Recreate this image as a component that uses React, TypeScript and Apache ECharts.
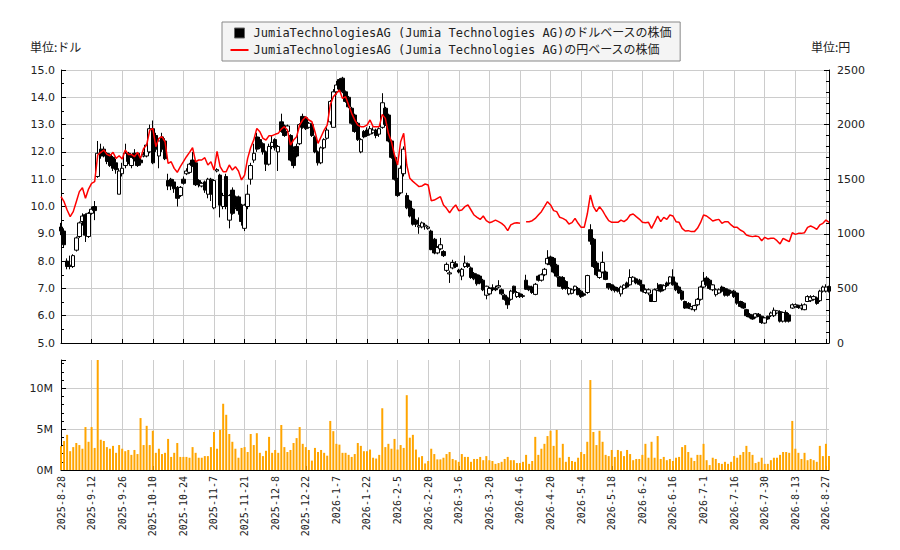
import React, { useEffect, useRef } from 'react';
import * as echarts from 'echarts';

const NAME_USD = 'JumiaTechnologiesAG (Jumia Technologies AG)のドルベースの株価';
const NAME_JPY = 'JumiaTechnologiesAG (Jumia Technologies AG)の円ベースの株価';

// US market holidays inside the period (trading calendar for the category axis)
const HOLIDAYS = ['2025-9-1', '2025-11-27', '2025-12-25', '2026-1-1', '2026-1-19', '2026-2-16', '2026-4-3', '2026-5-25', '2026-6-19', '2026-7-3'];
const FIRST_DAY = [2025, 8, 28];
const DAY_COUNT = 252;

const OPEN = [
  9.25, 9.1, 8.0, 7.85, 7.8, 8.4, 8.9, 9.45, 9.7, 8.9,
  9.75, 10.0, 11.1, 12.1, 12.1, 11.95, 11.9, 11.8, 11.6, 10.45,
  11.2, 11.5, 11.95, 11.5, 11.95, 11.95, 11.7, 11.85, 11.85, 12.0,
  12.85, 12.6, 11.85, 12.55, 12.4, 10.95, 11.0, 10.9, 10.7, 10.4,
  11.0, 11.2, 11.25, 11.7, 11.6, 10.95, 10.75, 10.9, 10.45, 11.0,
  9.95, 11.3, 11.15, 10.0, 11.1, 9.5, 10.6, 10.35, 10.35, 10.05,
  9.2, 10.0, 11.0, 11.7, 12.55, 12.45, 12.3, 12.0, 11.55, 12.2,
  12.45, 12.0, 13.1, 12.95, 12.75, 12.6, 12.1, 12.2, 12.3, 13.3,
  13.25, 12.9, 13.0, 12.55, 12.0, 11.6, 12.15, 12.5, 13.1, 12.9,
  14.2, 14.65, 14.7, 14.2, 14.0, 13.6, 13.35, 13.05, 12.0, 12.75,
  12.8, 12.65, 12.7, 12.8, 12.65, 12.9, 13.6, 13.35, 12.4, 11.8,
  11.0, 10.5, 11.2, 10.4, 10.2, 9.9, 9.5, 9.25, 9.25, 9.28,
  9.2, 9.1, 8.8, 8.3, 8.45, 8.35, 7.66, 7.53, 7.75, 7.9,
  7.67, 7.45, 7.8, 7.9, 7.75, 7.55, 7.5, 7.45, 7.3, 6.75,
  6.8, 7.02, 7.0, 7.05, 6.95, 6.75, 6.65, 6.6, 7.08, 6.7,
  6.8, 6.73, 7.3, 7.08, 7.05, 6.78, 7.45, 7.3, 7.5, 7.9,
  8.15, 8.1, 7.85, 7.42, 7.4, 7.25, 6.8, 6.82, 6.95, 7.0,
  6.9, 6.8, 6.85, 9.15, 8.8, 7.93, 7.4, 7.6, 7.6, 7.18,
  7.13, 7.05, 7.0, 6.8, 7.0, 7.2, 7.13, 7.27, 7.35, 7.3,
  7.13, 6.85, 6.83, 6.77, 6.52, 6.93, 7.13, 6.95, 7.2, 7.2,
  7.42, 7.2, 7.05, 6.9, 6.52, 6.45, 6.25, 6.22, 6.4, 6.6,
  7.05, 7.38, 7.3, 6.95, 6.77, 6.83, 7.05, 7.0, 6.95, 6.9,
  6.9, 6.83, 6.52, 6.46, 6.22, 6.05, 6.0, 5.95, 6.05, 5.98,
  5.73, 5.98, 6.0, 6.0, 6.1, 6.15, 5.8, 6.12, 6.03, 6.28,
  6.33, 6.38, 6.28, 6.22, 6.52, 6.55, 6.6, 6.65, 6.55, 6.9,
  6.9, 7.07,
];

const CLOSE = [
  9.1, 8.6, 7.8, 7.8, 8.2, 8.85, 9.4, 9.65, 8.95, 9.75,
  9.9, 9.85, 11.95, 11.85, 11.85, 11.65, 11.5, 11.4, 11.35, 11.3,
  11.4, 11.95, 11.65, 11.8, 11.75, 11.5, 11.6, 11.9, 12.25, 12.85,
  11.6, 12.1, 12.4, 12.1, 11.75, 10.75, 10.75, 10.65, 10.3, 10.7,
  10.85, 11.3, 11.55, 11.5, 10.8, 10.8, 10.85, 10.6, 11.0, 10.45,
  10.95, 11.35, 10.05, 10.4, 10.0, 10.4, 9.75, 9.95, 9.85, 9.45,
  10.05, 10.45, 11.5, 11.95, 12.1, 12.15, 12.0, 11.55, 12.2, 12.35,
  12.15, 12.2, 12.75, 12.6, 12.95, 11.7, 11.5, 11.85, 13.0, 12.9,
  12.85, 13.05, 12.6, 12.0, 11.6, 12.15, 12.45, 12.8, 13.85, 14.2,
  14.45, 14.3, 14.2, 13.85, 13.65, 13.05, 12.75, 12.45, 12.45, 12.55,
  12.6, 12.85, 12.8, 12.6, 12.85, 13.8, 13.0, 12.4, 11.8, 11.0,
  10.4, 11.4, 12.1, 9.95, 9.65, 9.35, 9.35, 9.3, 9.4, 9.32,
  9.25, 8.42, 8.3, 8.5, 8.6, 8.2, 7.88, 7.57, 7.95, 7.8,
  7.6, 7.7, 7.93, 7.8, 7.4, 7.35, 7.17, 7.2, 6.95, 7.08,
  7.0, 6.98, 6.95, 7.1, 6.8, 6.6, 6.4, 6.9, 6.86, 6.85,
  6.7, 6.71, 6.97, 6.95, 6.85, 7.15, 7.3, 7.5, 7.7, 8.1,
  7.87, 7.6, 7.45, 7.08, 7.0, 7.0, 7.0, 6.95, 7.08, 6.77,
  6.7, 6.75, 7.47, 8.73, 7.8, 7.5, 7.63, 7.95, 7.33, 7.02,
  6.95, 6.92, 6.9, 7.05, 7.12, 7.05, 7.4, 7.41, 7.2, 7.15,
  6.9, 6.95, 6.95, 6.52, 6.95, 6.98, 6.9, 7.1, 7.1, 7.42,
  7.13, 6.95, 6.83, 6.6, 6.28, 6.28, 6.33, 6.37, 6.6, 7.05,
  7.27, 7.13, 7.0, 7.13, 6.95, 6.95, 6.9, 6.75, 6.75, 6.83,
  6.7, 6.46, 6.34, 6.28, 6.0, 5.95, 5.88, 6.07, 5.98, 5.75,
  5.92, 5.88, 6.1, 6.2, 6.18, 5.8, 6.12, 5.8, 5.8, 6.4,
  6.4, 6.3, 6.36, 6.4, 6.7, 6.68, 6.7, 6.45, 6.9, 7.05,
  7.05, 6.9,
];

const LOW = [
  8.95, 8.5, 7.7, 7.7, 7.75, 8.35, 8.85, 9.3, 8.7, 8.85,
  9.7, 9.5, 11.05, 11.75, 11.8, 11.55, 11.45, 11.3, 11.2, 10.45,
  11.1, 11.4, 11.55, 11.4, 11.65, 11.45, 11.5, 11.8, 11.8, 11.95,
  11.55, 12.0, 11.4, 12.0, 11.7, 10.6, 10.6, 10.5, 10.0, 10.35,
  10.8, 11.15, 11.2, 11.45, 10.75, 10.7, 10.7, 10.5, 10.3, 10.2,
  9.9, 11.25, 9.6, 9.9, 9.9, 9.2, 9.7, 9.9, 9.7, 9.3,
  9.1, 9.9, 10.8, 11.6, 12.0, 12.1, 11.9, 11.3, 11.5, 12.1,
  12.05, 11.3, 12.7, 12.55, 12.7, 11.65, 11.4, 11.8, 12.25, 12.85,
  12.8, 12.85, 12.55, 11.95, 11.5, 11.55, 12.1, 12.45, 13.0, 12.9,
  14.1, 14.25, 14.15, 13.8, 13.6, 13.0, 12.7, 12.4, 11.95, 12.5,
  12.55, 12.6, 12.65, 12.5, 12.55, 12.85, 12.95, 12.35, 11.75, 10.95,
  10.35, 10.45, 11.1, 9.9, 9.6, 9.3, 9.25, 9.0, 9.2, 9.15,
  9.15, 8.4, 8.25, 8.25, 8.4, 8.15, 7.6, 7.2, 7.7, 7.75,
  7.55, 7.3, 7.75, 7.75, 7.35, 7.3, 7.1, 7.15, 6.9, 6.6,
  6.75, 6.9, 6.9, 7.0, 6.75, 6.55, 6.25, 6.55, 6.8, 6.65,
  6.65, 6.65, 6.95, 6.9, 6.8, 6.75, 7.25, 7.25, 7.45, 7.85,
  7.8, 7.55, 7.4, 7.05, 6.95, 6.95, 6.75, 6.78, 6.9, 6.75,
  6.65, 6.7, 6.8, 8.6, 7.75, 7.45, 7.35, 7.55, 7.3, 6.95,
  6.9, 6.85, 6.85, 6.7, 6.95, 7.0, 7.1, 7.25, 7.15, 7.1,
  6.85, 6.8, 6.75, 6.5, 6.5, 6.9, 6.85, 6.9, 7.05, 7.15,
  7.1, 6.9, 6.8, 6.55, 6.25, 6.25, 6.2, 6.15, 6.35, 6.55,
  7.0, 7.1, 6.95, 6.9, 6.7, 6.8, 6.85, 6.7, 6.7, 6.8,
  6.65, 6.4, 6.3, 6.25, 5.95, 5.9, 5.85, 5.9, 5.95, 5.7,
  5.7, 5.85, 5.95, 5.95, 6.05, 5.75, 5.75, 5.75, 5.75, 6.25,
  6.3, 6.25, 6.2, 6.2, 6.5, 6.5, 6.55, 6.4, 6.5, 6.85,
  6.85, 6.85,
];

const HIGH = [
  9.4, 9.2, 8.1, 8.2, 8.25, 8.9, 9.45, 9.75, 9.75, 9.8,
  10.0, 10.2, 12.4, 12.3, 12.2, 12.0, 11.95, 11.85, 11.75, 11.4,
  11.6, 12.3, 12.0, 11.9, 12.1, 12.0, 11.8, 12.0, 12.3, 13.0,
  13.15, 12.7, 12.5, 12.7, 12.5, 11.2, 11.05, 11.0, 10.75, 10.75,
  11.1, 11.4, 11.6, 12.0, 11.65, 11.0, 10.9, 10.95, 11.05, 11.05,
  11.0, 11.4, 11.2, 10.5, 11.2, 10.45, 10.7, 10.4, 10.4, 10.1,
  10.1, 10.8, 11.6, 12.3, 12.7, 12.55, 12.35, 12.05, 12.3, 12.6,
  12.5, 12.25, 13.4, 13.0, 13.0, 12.65, 12.2, 12.3, 13.05, 13.4,
  13.3, 13.1, 13.05, 12.6, 12.05, 12.2, 12.5, 12.9, 13.9, 14.3,
  14.6, 14.7, 14.75, 14.25, 14.05, 13.65, 13.4, 13.1, 12.5, 12.8,
  12.9, 12.95, 12.9, 12.85, 12.9, 14.15, 13.65, 13.4, 12.45, 11.85,
  11.05, 11.5, 12.2, 10.5, 10.25, 9.95, 9.55, 9.6, 9.45, 9.4,
  9.3, 9.15, 8.85, 8.55, 8.85, 8.4, 7.95, 7.65, 8.05, 8.0,
  7.72, 7.75, 8.2, 7.95, 7.8, 7.6, 7.55, 7.5, 7.35, 7.1,
  7.05, 7.15, 7.1, 7.3, 7.0, 6.8, 6.7, 6.95, 7.1, 6.9,
  6.85, 6.8, 7.5, 7.1, 7.1, 7.2, 7.5, 7.55, 7.75, 8.4,
  8.2, 8.15, 7.9, 7.45, 7.45, 7.3, 7.05, 7.0, 7.1, 7.05,
  6.95, 6.85, 7.5, 9.35, 8.85, 8.0, 7.7, 8.35, 7.65, 7.2,
  7.15, 7.1, 7.05, 7.1, 7.15, 7.25, 7.7, 7.45, 7.4, 7.35,
  7.15, 7.0, 7.0, 6.8, 7.0, 7.2, 7.15, 7.15, 7.25, 7.45,
  7.7, 7.25, 7.1, 6.95, 6.55, 6.5, 6.35, 6.4, 6.65, 7.1,
  7.6, 7.45, 7.35, 7.15, 7.0, 7.0, 7.1, 7.05, 7.0, 6.95,
  6.95, 6.85, 6.55, 6.5, 6.25, 6.1, 6.05, 6.1, 6.1, 6.0,
  5.95, 6.0, 6.15, 6.3, 6.2, 6.2, 6.15, 6.2, 6.1, 6.45,
  6.45, 6.4, 6.45, 6.45, 6.75, 6.75, 6.75, 6.7, 6.95, 7.1,
  7.15, 7.1,
];

const YEN_CLOSE = [
  1340, 1294, 1218, 1157, 1203, 1294, 1386, 1422, 1325, 1410,
  1462, 1477, 1722, 1746, 1767, 1727, 1715, 1746, 1691, 1715,
  1685, 1767, 1727, 1727, 1706, 1746, 1691, 1782, 1813, 1950,
  1965, 1798, 1874, 1889, 1843, 1645, 1660, 1599, 1563, 1615,
  1660, 1706, 1746, 1788, 1660, 1676, 1676, 1697, 1630, 1660,
  1584, 1755, 1615, 1569, 1569, 1630, 1584, 1615, 1575, 1493,
  1538, 1691, 1790, 1860, 1965, 1935, 1874, 1859, 1899, 1899,
  1911, 1920, 1959, 1981, 1950, 1813, 1859, 1889, 1996, 2042,
  2072, 2042, 2026, 1935, 1828, 1889, 1950, 1996, 2179, 2256,
  2286, 2317, 2240, 2256, 2179, 2103, 2042, 1996, 1981, 1981,
  1996, 2042, 1981, 1981, 1981, 2094, 2057, 1920, 1843, 1722,
  1630, 1843, 1920, 1630, 1508, 1480, 1456, 1432, 1438, 1456,
  1447, 1303, 1309, 1325, 1340, 1264, 1233, 1193, 1233, 1264,
  1212, 1218, 1248, 1264, 1218, 1172, 1151, 1132, 1163, 1120,
  1102, 1111, 1126, 1111, 1096, 1071, 1029, 1081, 1096, 1102,
  1096, null, 1111, 1111, 1120, 1141, 1172, 1203, 1248, 1294,
  1264, 1212, 1203, 1151, 1141, 1126, 1090, 1102, 1141, 1096,
  1059, 1059, 1181, 1355, 1248, 1203, 1248, 1212, 1163, 1120,
  1105, 1105, 1105, 1126, 1111, 1132, 1172, 1181, 1157, 1135,
  1105, 1102, 1105, 1050, 1105, 1163, 1111, 1150, 1132, 1172,
  1163, 1111, 1105, 1050, 1026, 1029, 1020, 1020, 1050, 1102,
  1172, 1163, 1142, 1117, 1126, 1132, 1096, 1111, 1111, 1081,
  1059, 1059, 1035, 1020, 989, 980, 974, 980, 974, 937,
  968, 953, 959, 959, 937, 907, 959, 943, 928, 1010,
  995, 1004, 1004, 1010, 1059, 1071, 1059, 1041, 1081, 1096,
  1126, 1105,
];

// volume in millions of shares
const VOLUME_M = [
  2.9, 3.55, 4.3, 2.3, 2.8, 3.3, 3.05, 2.6, 5.25, 3.45,
  5.25, 2.7, 13.45, 3.7, 3.55, 2.8, 2.6, 2.95, 2.1, 3.05,
  2.6, 2.3, 2.45, 1.85, 2.45, 1.95, 6.35, 3.05, 5.4, 3.05,
  4.8, 2.1, 2.6, 1.95, 2.1, 3.8, 1.6, 2.1, 3.3, 1.6,
  1.6, 1.6, 1.5, 2.8, 2.1, 1.5, 1.5, 1.7, 1.7, 2.8,
  4.65, 2.6, 4.9, 8.1, 6.75, 4.4, 3.45, 2.6, 1.5, 2.7,
  2.8, 2.2, 4.4, 3.05, 4.5, 2.1, 1.7, 2.35, 4.05, 2.1,
  2.45, 2.1, 5.5, 2.8, 2.2, 2.45, 3.3, 3.9, 5.25, 3.2,
  2.8, 2.45, 1.15, 2.7, 2.2, 2.45, 2.1, 1.75, 6.0, 4.75,
  3.2, 3.1, 2.1, 2.1, 1.85, 1.6, 1.95, 3.3, 2.95, 2.3,
  2.3, 2.5, 1.5, 1.4, 1.85, 7.55, 2.8, 3.2, 2.6, 3.8,
  2.5, 3.05, 2.7, 9.15, 3.95, 4.3, 2.5, 1.55, 1.7, 0.8,
  1.1, 2.6, 1.95, 1.3, 1.3, 1.5, 1.95, 2.2, 1.35, 1.2,
  1.0, 1.95, 1.6, 1.6, 1.0, 1.35, 1.35, 1.6, 1.2, 1.7,
  1.2, 1.1, 0.75, 0.85, 1.0, 1.35, 1.6, 1.2, 1.2, 0.85,
  0.85, 1.0, 1.85, 0.75, 1.1, 4.05, 1.85, 2.6, 3.2, 4.15,
  4.8, 2.95, 4.9, 1.5, 3.2, 1.0, 1.6, 1.1, 1.0, 1.5,
  2.2, 1.95, 3.45, 11.0, 4.65, 3.05, 4.8, 3.45, 1.85, 1.7,
  2.45, 1.6, 2.45, 2.3, 1.7, 2.45, 1.95, 1.2, 1.35, 1.35,
  1.85, 3.2, 1.5, 3.45, 1.5, 4.15, 1.35, 1.6, 1.2, 1.35,
  1.1, 1.5, 1.6, 2.8, 3.05, 2.2, 1.5, 1.1, 1.85, 1.85,
  3.2, 1.2, 0.6, 1.5, 1.35, 0.85, 0.75, 1.0, 0.75, 1.0,
  1.7, 1.5, 1.85, 2.2, 2.95, 2.2, 1.85, 0.85, 1.0, 1.5,
  0.75, 0.75, 1.2, 1.5, 1.5, 1.85, 2.2, 2.2, 2.1, 6.0,
  2.6, 2.1, 1.35, 2.1, 1.2, 1.35, 1.2, 1.0, 2.95, 1.7,
  3.2, 1.7,
];

function tradingDays(): string[] {
  const out: string[] = [];
  const d = new Date(Date.UTC(FIRST_DAY[0], FIRST_DAY[1] - 1, FIRST_DAY[2]));
  while (out.length < DAY_COUNT) {
    const wd = d.getUTCDay();
    const s = `${d.getUTCFullYear()}-${d.getUTCMonth() + 1}-${d.getUTCDate()}`;
    if (wd !== 0 && wd !== 6 && HOLIDAYS.indexOf(s) < 0) out.push(s);
    d.setUTCDate(d.getUTCDate() + 1);
  }
  return out;
}

const MONO = "'DejaVu Sans Mono', 'Noto Sans CJK JP', monospace";
const SANS = "'DejaVu Sans', 'Noto Sans CJK JP', sans-serif";
const GRID_COLOR = '#cccccc';

export default function App() {
  const ref = useRef<HTMLDivElement>(null);

  useEffect(() => {
    if (!ref.current) return;
    const chart = echarts.init(ref.current, undefined, { renderer: 'svg' });
    const dates = tradingDays();
    const candles = OPEN.map((o, i) => [o, CLOSE[i], LOW[i], HIGH[i]]);

    const catAxisBase = {
      type: 'category',
      data: dates,
      boundaryGap: false,
      axisLine: { show: true, lineStyle: { color: '#000', width: 1 } },
      axisTick: { show: true, inside: true, interval: 9, length: 4, lineStyle: { color: '#000' } },
      splitLine: { show: true, interval: 9, lineStyle: { color: GRID_COLOR, width: 1 } },
    };

    const option: any = {
      animation: false,
      backgroundColor: '#ffffff',
      textStyle: { fontFamily: SANS },
      legend: {
        orient: 'vertical',
        left: 222,
        top: 22,
        backgroundColor: '#f4f4f4',
        borderColor: '#888',
        borderWidth: 1,
        borderRadius: 0,
        padding: [5, 8, 5, 8],
        itemGap: 5,
        itemWidth: 18,
        itemHeight: 10,
        selectedMode: false,
        textStyle: { fontFamily: MONO, fontSize: 12, color: '#222' },
        data: [
          {
            name: NAME_USD,
            icon: 'path://M0,0M18,10M4,0h10v10h-10z',
            itemStyle: { color: '#000', borderColor: '#666', borderWidth: 1 },
          },
          {
            name: NAME_JPY,
            icon: 'path://M0,0M18,10M0,4H18V6H0Z',
            itemStyle: { color: '#ff0000', borderWidth: 0 },
          },
        ],
      },
      graphic: [
        { type: 'text', left: 30, top: 40, style: { text: '単位:ドル', font: "12px 'Noto Sans CJK JP'", fill: '#222' } },
        { type: 'text', left: 811, top: 40, style: { text: '単位:円', font: "12px 'Noto Sans CJK JP'", fill: '#222' } },
      ],
      grid: [
        { left: 61, top: 70, width: 768, height: 273 },
        { left: 61, top: 360, width: 768, height: 110 },
      ],
      xAxis: [
        { ...catAxisBase, gridIndex: 0, axisLabel: { show: false } },
        {
          ...catAxisBase,
          gridIndex: 1,
          axisLabel: { show: true, interval: 9, rotate: 90, fontFamily: MONO, fontSize: 10, color: '#222', margin: 6 },
        },
      ],
      yAxis: [
        {
          type: 'value',
          gridIndex: 0,
          position: 'left',
          min: 5,
          max: 15,
          interval: 1,
          axisLine: { show: true, lineStyle: { color: '#000' } },
          axisTick: { show: true, inside: true, length: 5, lineStyle: { color: '#000' } },
          minorTick: { show: true, splitNumber: 2, length: 3, lineStyle: { color: '#000' } },
          axisLabel: { fontSize: 11, color: '#222', margin: 6, formatter: (v: number) => v.toFixed(1) },
          splitLine: { show: true, lineStyle: { color: GRID_COLOR } },
        },
        {
          type: 'value',
          gridIndex: 0,
          position: 'right',
          min: 0,
          max: 2500,
          interval: 500,
          axisLine: { show: true, lineStyle: { color: '#000' } },
          axisTick: { show: true, inside: true, length: 5, lineStyle: { color: '#000' } },
          minorTick: { show: true, splitNumber: 5, length: 3, lineStyle: { color: '#000' } },
          axisLabel: { fontSize: 11, color: '#222', margin: 8, formatter: (v: number) => String(v) },
          splitLine: { show: false },
        },
        {
          type: 'value',
          gridIndex: 1,
          position: 'left',
          min: 0,
          max: 'dataMax',
          interval: 5,
          axisLine: { show: true, lineStyle: { color: '#000' } },
          axisTick: { show: true, inside: true, length: 5, lineStyle: { color: '#000' } },
          minorTick: { show: true, splitNumber: 5, length: 3, lineStyle: { color: '#000' } },
          axisLabel: { fontSize: 11, color: '#222', margin: 8, showMaxLabel: false, formatter: (v: number) => `${v}M` },
          splitLine: { show: true, showMaxLine: false, lineStyle: { color: GRID_COLOR } },
        },
      ],
      series: [
        {
          name: NAME_USD,
          type: 'candlestick',
          xAxisIndex: 0,
          yAxisIndex: 0,
          data: candles,
          barWidth: 4,
          itemStyle: { color: '#ffffff', color0: '#000000', borderColor: '#000000', borderColor0: '#000000', borderWidth: 1 },
        },
        {
          name: NAME_JPY,
          type: 'line',
          xAxisIndex: 0,
          yAxisIndex: 1,
          data: YEN_CLOSE,
          symbol: 'none',
          connectNulls: false,
          lineStyle: { color: '#ff0000', width: 1.5 },
          itemStyle: { color: '#ff0000' },
          z: 3,
        },
        {
          name: 'volume',
          type: 'bar',
          xAxisIndex: 1,
          yAxisIndex: 2,
          data: VOLUME_M,
          barWidth: 2,
          itemStyle: { color: '#ffa500' },
        },
      ],
    };

    chart.setOption(option);
    return () => chart.dispose();
  }, []);

  return (
    <div
      ref={ref}
      style={{ position: 'fixed', left: 0, top: 0, width: 900, height: 550, background: '#fff' }}
    />
  );
}
